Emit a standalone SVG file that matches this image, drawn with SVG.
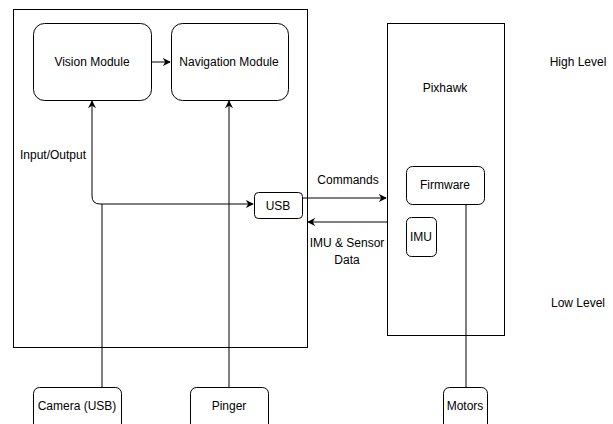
<svg xmlns="http://www.w3.org/2000/svg" width="613" height="424" viewBox="0 0 613 424">
<style>
.box{fill:#fff;stroke:#000;stroke-width:1}
.rbox{fill:#fff;stroke:#000;stroke-width:1}
.t{font-family:"Liberation Sans",Arial,sans-serif;font-size:12px;fill:#000;text-anchor:middle}
.c{fill:none;stroke:#000;stroke-width:1}
</style>
<defs>
<marker id="ah" viewBox="0 0 10 10" refX="9" refY="5" markerWidth="8" markerHeight="8" markerUnits="userSpaceOnUse" orient="auto">
<path d="M0,0 L10,5 L0,10 L3,5 Z" fill="#000"/>
</marker>
</defs>
<rect width="613" height="424" fill="#fff"/>
<g id="computer"><rect class="box" x="13.5" y="9.5" width="294" height="338"/></g>
<g id="pixhawk"><rect class="box" x="387.5" y="23.5" width="117" height="312"/><text class="t" x="445" y="92">Pixhawk</text></g>
<g id="connectors">
<path class="c" d="M102,387 L102,204"/>
<path class="c" d="M100,204 L253,204" marker-end="url(#ah)"/>
<path class="c" d="M100,204 Q92,204 92,196 L92,101" marker-end="url(#ah)"/>
<path class="c" d="M229,387 L229,101" marker-end="url(#ah)"/>
<path class="c" d="M151,62 L170,62" marker-end="url(#ah)"/>
<path class="c" d="M303,198 L386,198" marker-end="url(#ah)"/>
<path class="c" d="M387,222 L308,222" marker-end="url(#ah)"/>
<path class="c" d="M466,204 L466,387"/>
</g>
<g id="vision"><rect class="rbox" x="33.5" y="23.5" width="118" height="77" rx="11"/><text class="t" x="92" y="66">Vision Module</text></g>
<g id="navigation"><rect class="rbox" x="171.5" y="23.5" width="117" height="77" rx="11"/><text class="t" x="229" y="66">Navigation Module</text></g>
<g id="usb"><rect class="rbox" x="254.5" y="192.5" width="48" height="26" rx="4"/><text class="t" x="278" y="210">USB</text></g>
<g id="firmware"><rect class="rbox" x="406.5" y="166.5" width="78" height="38" rx="6"/><text class="t" x="445" y="189">Firmware</text></g>
<g id="imu"><rect class="rbox" x="406.5" y="217.5" width="30" height="39" rx="5"/><text class="t" x="421" y="241">IMU</text></g>
<g id="camera"><rect class="rbox" x="33.5" y="387.5" width="88" height="44" rx="6"/><text class="t" x="77" y="410">Camera (USB)</text></g>
<g id="pinger"><rect class="rbox" x="190.5" y="387.5" width="78" height="44" rx="6"/><text class="t" x="229" y="410">Pinger</text></g>
<g id="motors"><rect class="rbox" x="443.5" y="387.5" width="44" height="44" rx="6"/><text class="t" x="465" y="410">Motors</text></g>
<g id="labels">
<text class="t" x="53" y="159">Input/Output</text>
<text class="t" x="348" y="184">Commands</text>
<text class="t" x="347" y="247">IMU &amp; Sensor</text>
<text class="t" x="347" y="264">Data</text>
<text class="t" x="578" y="66">High Level</text>
<text class="t" x="578" y="307">Low Level</text>
</g>
</svg>
